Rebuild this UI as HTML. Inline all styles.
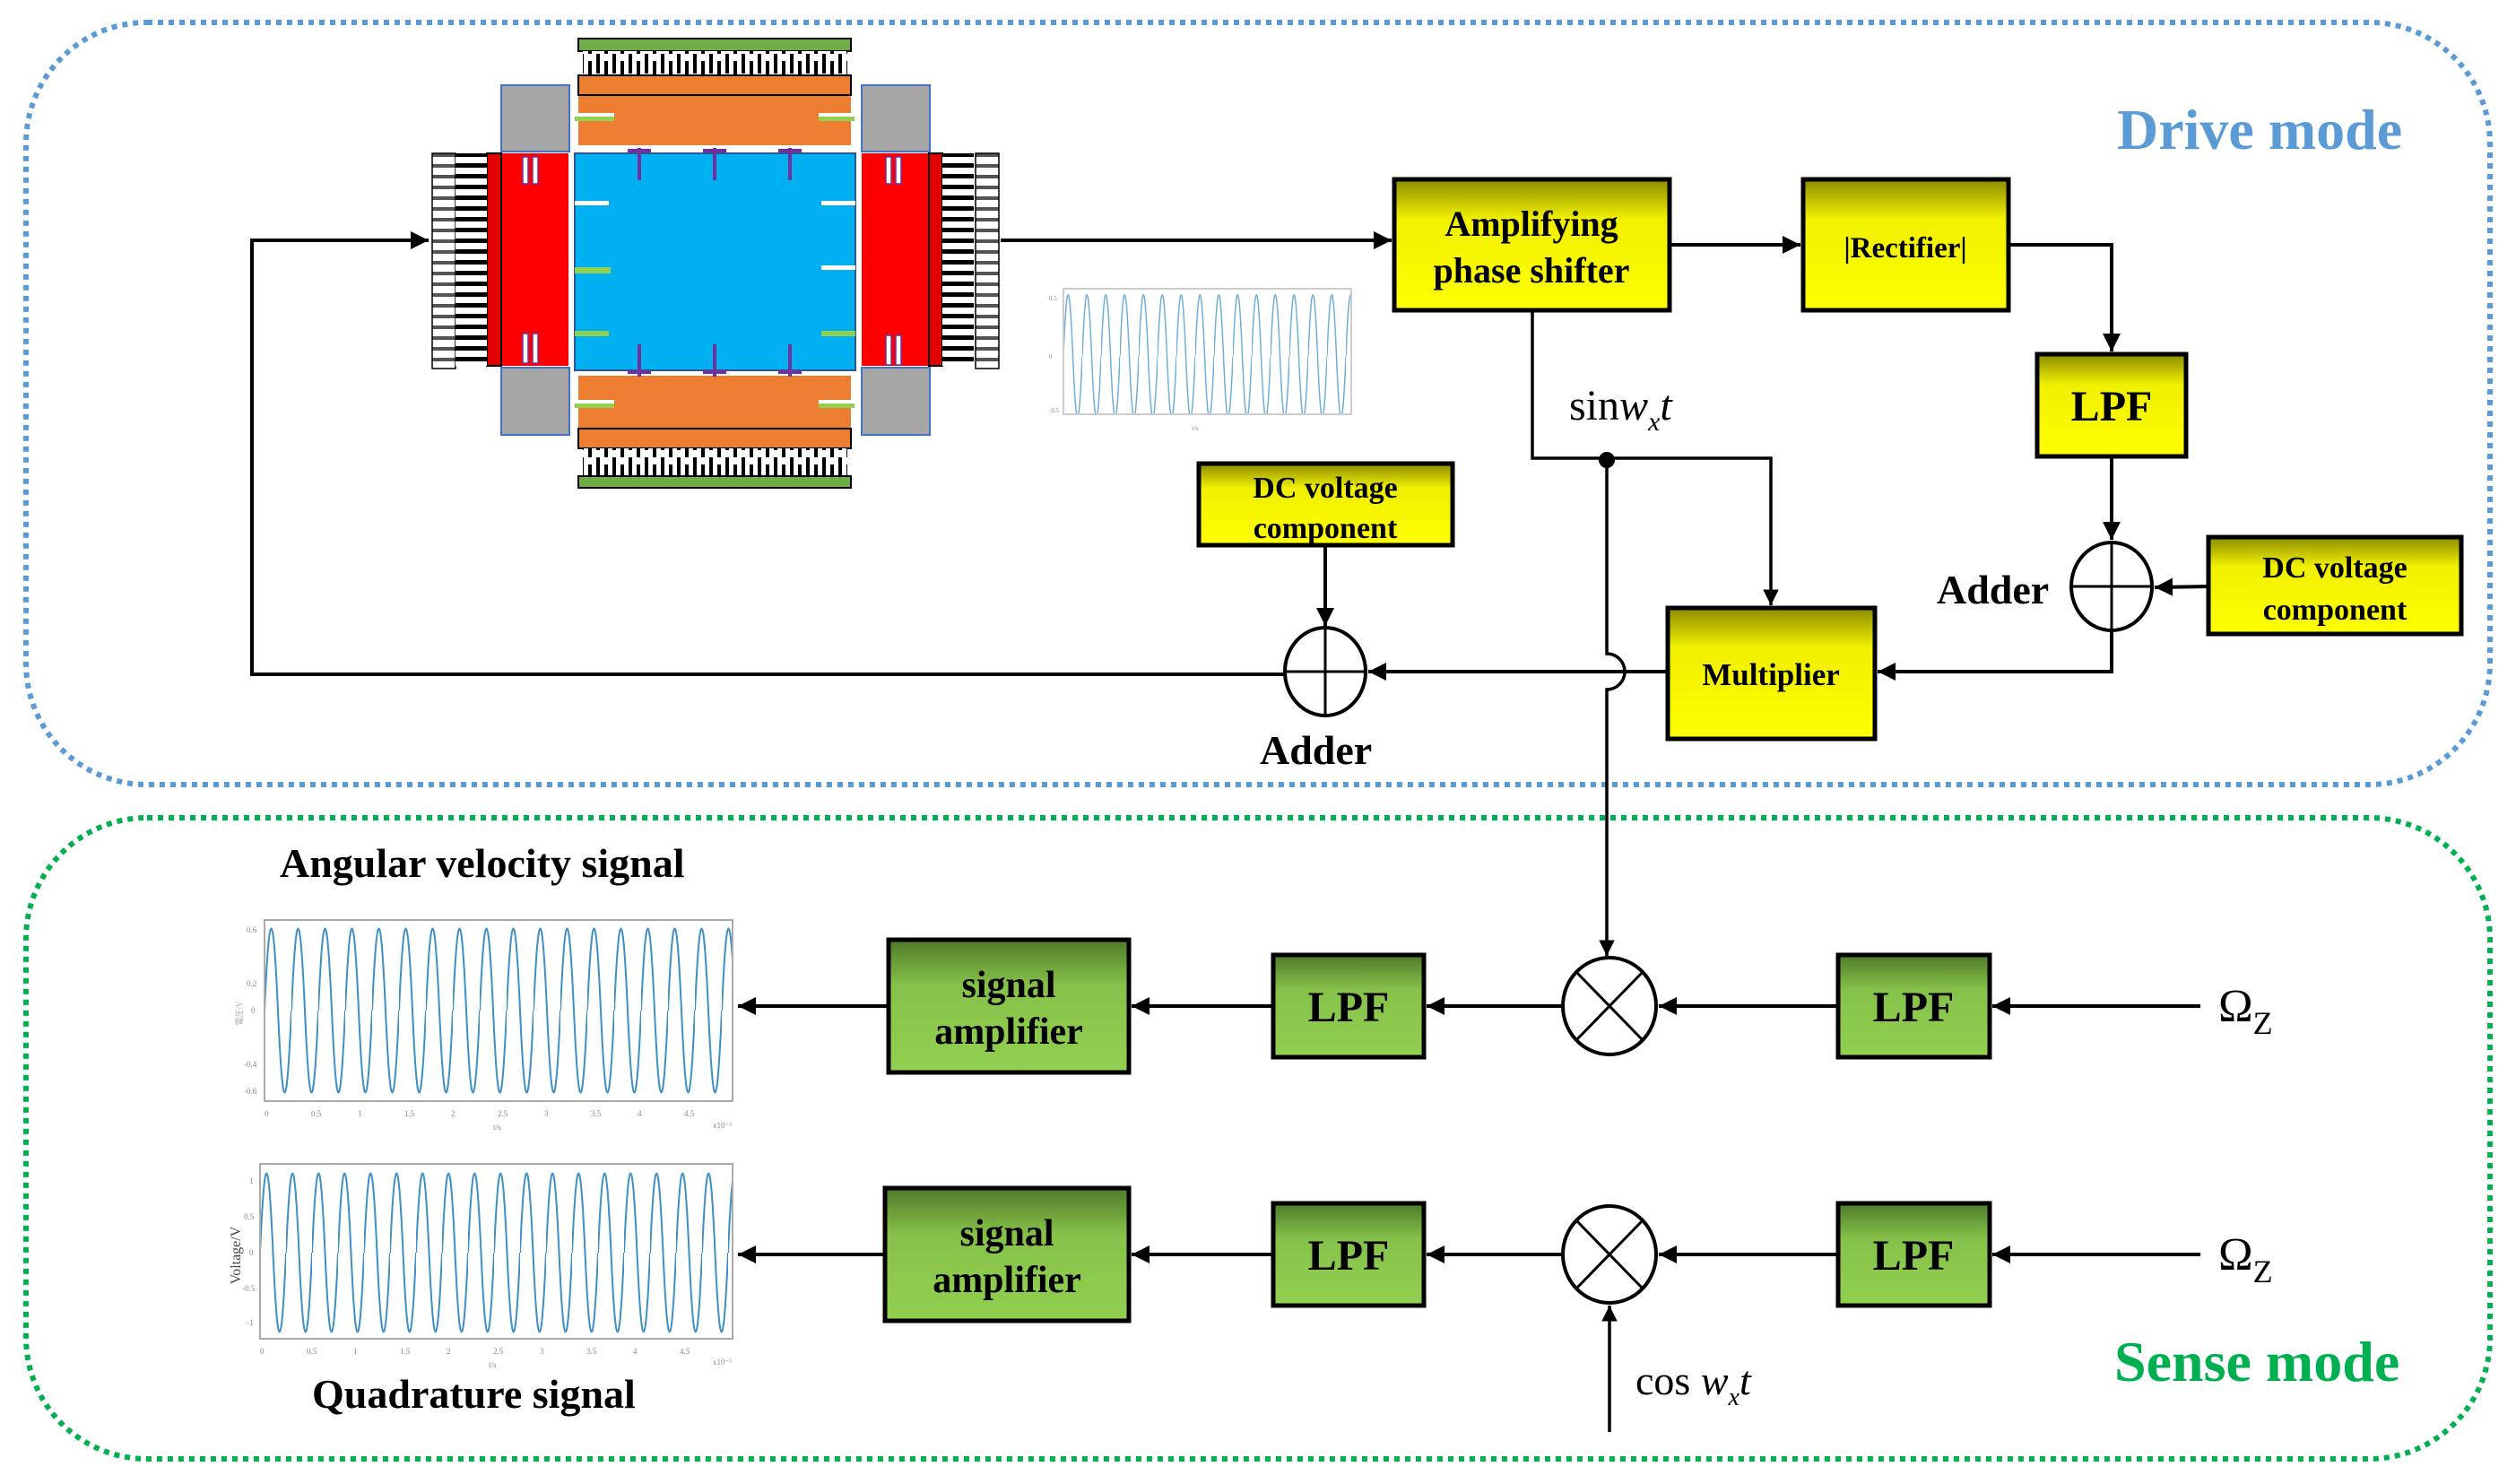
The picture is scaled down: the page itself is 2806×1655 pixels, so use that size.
<!DOCTYPE html>
<html><head><meta charset="utf-8"><style>
html,body{margin:0;padding:0;background:#fff}
svg{display:block}
text{font-family:"Liberation Serif",serif}
.b{font-weight:bold;fill:#000}
</style></head><body>
<svg width="2806" height="1655" viewBox="0 0 2806 1655" xmlns="http://www.w3.org/2000/svg">
<defs>
<linearGradient id="yg" x1="0" y1="0" x2="0" y2="1"><stop offset="0" stop-color="#8c8c00"/><stop offset="0.3" stop-color="#f0f000"/><stop offset="1" stop-color="#ffff00"/></linearGradient>
<linearGradient id="gg" x1="0" y1="0" x2="0" y2="1"><stop offset="0" stop-color="#4f7a2a"/><stop offset="0.35" stop-color="#86c24a"/><stop offset="1" stop-color="#92d050"/></linearGradient>
<pattern id="s1" x="295" y="0" width="30" height="1655" patternUnits="userSpaceOnUse"><path d="M0,1127 C5.4,1005 9.6,1005 15,1127 C20.4,1249 24.6,1249 30,1127" fill="none" stroke="#3d8fc4" stroke-width="2"/></pattern>
<pattern id="s2" x="290" y="0" width="29" height="1655" patternUnits="userSpaceOnUse"><path d="M0,1397 C5.2,1279 9.3,1279 14.5,1397 C19.7,1515 23.8,1515 29,1397" fill="none" stroke="#3d8fc4" stroke-width="2"/></pattern>
<pattern id="s3" x="1186" y="0" width="21" height="1655" patternUnits="userSpaceOnUse"><path d="M0,397 C3.8,306 6.7,306 10.5,397 C14.3,488 17.2,488 21,397" fill="none" stroke="#6fb0d8" stroke-width="1.5"/></pattern>
<pattern id="hc" x="0" y="0" width="20" height="12" patternUnits="userSpaceOnUse"><rect width="20" height="12" fill="#fff"/><rect y="2" width="20" height="5" fill="#000"/></pattern>
<pattern id="hc2" x="0" y="0" width="20" height="12" patternUnits="userSpaceOnUse"><rect width="20" height="12" fill="#fff"/><rect y="3" width="20" height="4" fill="#555"/></pattern>
<pattern id="vc" x="645" y="0" width="18" height="30" patternUnits="userSpaceOnUse"><rect width="18" height="30" fill="#fff"/><rect x="2" width="4" height="22" fill="#000"/><rect x="11" y="8" width="4" height="22" fill="#000"/></pattern>
<marker id="ar" viewBox="0 0 10 10" refX="10" refY="5" markerWidth="5" markerHeight="5" orient="auto-start-reverse" markerUnits="strokeWidth"><path d="M0,0 L10,5 L0,10 z" fill="#000"/></marker>
</defs>

<rect x="29" y="25" width="2748" height="850" rx="135" fill="none" stroke="#5b9bd5" stroke-width="6" stroke-dasharray="6 6"/>
<rect x="29" y="912" width="2748" height="715" rx="135" fill="none" stroke="#00b050" stroke-width="6" stroke-dasharray="6 6"/>
<text x="2361" y="166" font-size="64" font-weight="bold" fill="#5b9bd5">Drive mode</text>
<text x="2358" y="1540" font-size="64" font-weight="bold" fill="#00b050">Sense mode</text>

<rect x="645" y="43" width="304" height="14" fill="#70ad47" stroke="#000" stroke-width="2"/>
<rect x="650" y="57" width="295" height="27" fill="url(#vc)"/>
<rect x="645" y="84" width="304" height="78" fill="#ed7d31"/>
<rect x="645" y="84" width="304" height="22" fill="none" stroke="#000" stroke-width="2"/>
<rect x="559" y="95" width="76" height="74" fill="#a6a6a6" stroke="#4472c4" stroke-width="2"/>
<rect x="961" y="95" width="76" height="74" fill="#a6a6a6" stroke="#4472c4" stroke-width="2"/>
<rect x="559" y="410" width="76" height="75" fill="#a6a6a6" stroke="#4472c4" stroke-width="2"/>
<rect x="961" y="410" width="76" height="75" fill="#a6a6a6" stroke="#4472c4" stroke-width="2"/>
<rect x="641" y="171" width="313" height="242" fill="#00b0f0" stroke="#2f5597" stroke-width="2"/>
<rect x="543" y="171" width="91" height="237" fill="#ff0000"/>
<rect x="543" y="171" width="16" height="237" fill="#e00000" stroke="#000" stroke-width="2"/>
<rect x="961" y="171" width="75" height="237" fill="#ff0000"/>
<rect x="1036" y="171" width="15" height="237" fill="#e00000" stroke="#000" stroke-width="2"/>
<rect x="482" y="171" width="26" height="240" fill="url(#hc2)" stroke="#000" stroke-width="1.5"/>
<rect x="508" y="171" width="35" height="237" fill="url(#hc)"/>
<rect x="1051" y="171" width="35" height="237" fill="url(#hc)"/>
<rect x="1088" y="171" width="26" height="240" fill="url(#hc2)" stroke="#000" stroke-width="1.5"/>
<rect x="645" y="419" width="304" height="81" fill="#ed7d31"/>
<rect x="645" y="478" width="304" height="22" fill="none" stroke="#000" stroke-width="2"/>
<rect x="650" y="500" width="295" height="31" fill="url(#vc)"/>
<rect x="645" y="531" width="304" height="13" fill="#70ad47" stroke="#000" stroke-width="2"/>
<g fill="#fff" stroke="#7030a0" stroke-width="1.5">
<rect x="583" y="175" width="6" height="30"/><rect x="594" y="175" width="6" height="30"/>
<rect x="583" y="372" width="6" height="33"/><rect x="594" y="372" width="6" height="33"/>
<rect x="988" y="175" width="6" height="30"/><rect x="999" y="175" width="6" height="30"/>
<rect x="988" y="374" width="6" height="33"/><rect x="999" y="374" width="6" height="33"/>
</g>
<g stroke="#7030a0" stroke-width="4">
<path d="M700,168 h26 M713,165 v36 M784,168 h26 M797,165 v36 M868,168 h26 M881,165 v36"/>
<path d="M700,415 h26 M713,384 v36 M784,415 h26 M797,384 v36 M868,415 h26 M881,384 v36"/>
</g>
<g fill="#fff"><rect x="641" y="126" width="44" height="9"/><rect x="913" y="126" width="40" height="9"/><rect x="641" y="446" width="44" height="9"/><rect x="913" y="446" width="40" height="9"/>
<rect x="641" y="224" width="38" height="5"/><rect x="916" y="224" width="38" height="5"/><rect x="916" y="296" width="38" height="5"/></g>
<g fill="#92d050"><rect x="641" y="130" width="44" height="5"/><rect x="913" y="130" width="40" height="5"/><rect x="641" y="450" width="44" height="5"/><rect x="913" y="450" width="40" height="5"/>
<rect x="641" y="298" width="40" height="7"/><rect x="641" y="369" width="38" height="6"/><rect x="916" y="369" width="38" height="6"/></g>

<rect x="1186" y="322" width="321" height="140" fill="url(#s3)" stroke="#ccc" stroke-width="2"/>
<g font-size="7" fill="#888"><text x="1170" y="335">0.5</text><text x="1170" y="400">0</text><text x="1170" y="460">-0.5</text><text x="1330" y="480">t/s</text></g>

<rect x="1555" y="200" width="307" height="146" fill="url(#yg)" stroke="#000" stroke-width="5"/>
<text class="b" x="1708" y="263" font-size="40" text-anchor="middle">Amplifying</text>
<text class="b" x="1708" y="315" font-size="40" text-anchor="middle">phase shifter</text>
<rect x="2011" y="200" width="229" height="146" fill="url(#yg)" stroke="#000" stroke-width="5"/>
<text class="b" x="2125" y="287" font-size="33" text-anchor="middle">|Rectifier|</text>
<rect x="2272" y="395" width="166" height="114" fill="url(#yg)" stroke="#000" stroke-width="5"/>
<text class="b" x="2355" y="469" font-size="48" text-anchor="middle">LPF</text>
<rect x="2463" y="599" width="282" height="108" fill="url(#yg)" stroke="#000" stroke-width="5"/>
<text class="b" x="2604" y="644" font-size="34" text-anchor="middle">DC voltage</text>
<text class="b" x="2604" y="691" font-size="34" text-anchor="middle">component</text>
<rect x="1860" y="678" width="231" height="146" fill="url(#yg)" stroke="#000" stroke-width="5"/>
<text class="b" x="1975" y="764" font-size="35" text-anchor="middle">Multiplier</text>
<rect x="1337" y="517" width="283" height="91" fill="url(#yg)" stroke="#000" stroke-width="5"/>
<text class="b" x="1478" y="555" font-size="34" text-anchor="middle">DC voltage</text>
<text class="b" x="1478" y="600" font-size="34" text-anchor="middle">component</text>

<g fill="#fff" stroke="#000" stroke-width="4">
<ellipse cx="2355" cy="654" rx="45" ry="49"/><ellipse cx="1478" cy="749" rx="45" ry="49"/></g>
<path d="M2310,654 h90 M2355,605 v98 M1433,749 h90 M1478,700 v98" stroke="#000" stroke-width="3"/>
<text class="b" x="2160" y="673" font-size="46">Adder</text>
<text class="b" x="1405" y="852" font-size="46">Adder</text>

<g fill="none" stroke="#000" stroke-width="4">
<path d="M1116,268 H1552" marker-end="url(#ar)"/>
<path d="M1862,273 H2008" marker-end="url(#ar)"/>
<path d="M2240,273 H2355 V392" marker-end="url(#ar)"/>
<path d="M2355,509 V602" marker-end="url(#ar)"/>
<path d="M2463,654 L2403,655" marker-end="url(#ar)"/>
<path d="M2355,703 V749 H2094" marker-end="url(#ar)"/>
<path d="M1860,749 H1526" marker-end="url(#ar)"/>
<path d="M1478,608 V698" marker-end="url(#ar)"/>
<path d="M1433,752 H281 V268 H478" marker-end="url(#ar)"/>
<path d="M1709,346 V511 H1975 V675" stroke-width="3.5" marker-end="url(#ar)"/>
<path d="M1792,511 V729 A20,20 0 0 1 1792,769 V1066" stroke-width="3.5" marker-end="url(#ar)"/>
</g>
<circle cx="1792" cy="513" r="9" fill="#000"/>
<text x="1750" y="468" font-size="48" fill="#000">sin<tspan font-style="italic">w</tspan><tspan font-style="italic" font-size="30" dy="12">x</tspan><tspan font-style="italic" dy="-12">t</tspan></text>

<text class="b" x="312" y="978" font-size="46">Angular velocity signal</text>
<text class="b" x="348" y="1570" font-size="46">Quadrature signal</text>
<rect x="295" y="1026" width="522" height="202" fill="url(#s1)" stroke="#aaa" stroke-width="2"/>
<rect x="290" y="1298" width="527" height="195" fill="url(#s2)" stroke="#aaa" stroke-width="2"/>
<g font-size="9" fill="#888">
<text x="275" y="1040">0.6</text><text x="275" y="1100">0.2</text><text x="280" y="1130">0</text><text x="272" y="1190">-0.4</text><text x="272" y="1220">-0.6</text>
<text x="295" y="1245">0</text><text x="347" y="1245">0.5</text><text x="399" y="1245">1</text><text x="451" y="1245">1.5</text><text x="503" y="1245">2</text><text x="555" y="1245">2.5</text><text x="607" y="1245">3</text><text x="659" y="1245">3.5</text><text x="711" y="1245">4</text><text x="763" y="1245">4.5</text><text x="550" y="1260">t/s</text><text x="795" y="1258">x10⁻³</text>
<text x="278" y="1320">1</text><text x="272" y="1360">0.5</text><text x="278" y="1400">0</text><text x="270" y="1440">-0.5</text><text x="275" y="1478">-1</text>
<text x="290" y="1510">0</text><text x="342" y="1510">0.5</text><text x="394" y="1510">1</text><text x="446" y="1510">1.5</text><text x="498" y="1510">2</text><text x="550" y="1510">2.5</text><text x="602" y="1510">3</text><text x="654" y="1510">3.5</text><text x="706" y="1510">4</text><text x="758" y="1510">4.5</text><text x="545" y="1525">t/s</text><text x="795" y="1522">x10⁻³</text>
</g>
<text x="268" y="1400" font-size="16" fill="#444" transform="rotate(-90 268 1400)" text-anchor="middle">Voltage/V</text>
<text x="270" y="1130" font-size="9" fill="#aaa" transform="rotate(-90 270 1130)" text-anchor="middle">電圧/V</text>

<g stroke="#000" stroke-width="5">
<rect x="991" y="1048" width="268" height="148" fill="url(#gg)"/>
<rect x="987" y="1325" width="272" height="148" fill="url(#gg)"/>
<rect x="1420" y="1065" width="168" height="114" fill="url(#gg)"/>
<rect x="2050" y="1065" width="169" height="114" fill="url(#gg)"/>
<rect x="1420" y="1342" width="168" height="114" fill="url(#gg)"/>
<rect x="2050" y="1342" width="169" height="114" fill="url(#gg)"/>
</g>
<g class="b" font-size="42" text-anchor="middle">
<text class="b" x="1125" y="1112">signal</text><text class="b" x="1125" y="1164">amplifier</text>
<text class="b" x="1123" y="1389">signal</text><text class="b" x="1123" y="1441">amplifier</text>
</g>
<g font-size="48" text-anchor="middle">
<text class="b" x="1504" y="1139">LPF</text><text class="b" x="2134" y="1139">LPF</text>
<text class="b" x="1504" y="1416">LPF</text><text class="b" x="2134" y="1416">LPF</text>
</g>
<g fill="#fff" stroke="#000" stroke-width="4">
<ellipse cx="1795" cy="1122" rx="52" ry="54"/><ellipse cx="1795" cy="1399" rx="52" ry="54"/></g>
<path d="M1758,1084 L1832,1160 M1832,1084 L1758,1160 M1758,1361 L1832,1437 M1832,1361 L1758,1437" stroke="#000" stroke-width="3"/>
<g fill="none" stroke="#000" stroke-width="4">
<path d="M2454,1122 H2222" marker-end="url(#ar)"/>
<path d="M2050,1122 H1850" marker-end="url(#ar)"/>
<path d="M1743,1122 H1591" marker-end="url(#ar)"/>
<path d="M1420,1122 H1262" marker-end="url(#ar)"/>
<path d="M991,1122 H823" marker-end="url(#ar)"/>
<path d="M2454,1399 H2222" marker-end="url(#ar)"/>
<path d="M2050,1399 H1850" marker-end="url(#ar)"/>
<path d="M1743,1399 H1591" marker-end="url(#ar)"/>
<path d="M1420,1399 H1262" marker-end="url(#ar)"/>
<path d="M987,1399 H823" marker-end="url(#ar)"/>
<path d="M1795,1597 V1456" stroke-width="3.5" marker-end="url(#ar)"/>
</g>
<text x="2474" y="1139" font-size="52">Ω<tspan font-size="36" dy="14">Z</tspan></text>
<text x="2474" y="1416" font-size="52">Ω<tspan font-size="36" dy="14">Z</tspan></text>
<text x="1824" y="1555" font-size="46">cos <tspan font-style="italic">w</tspan><tspan font-style="italic" font-size="28" dy="12">x</tspan><tspan font-style="italic" dy="-12">t</tspan></text>
</svg>
</body></html>
